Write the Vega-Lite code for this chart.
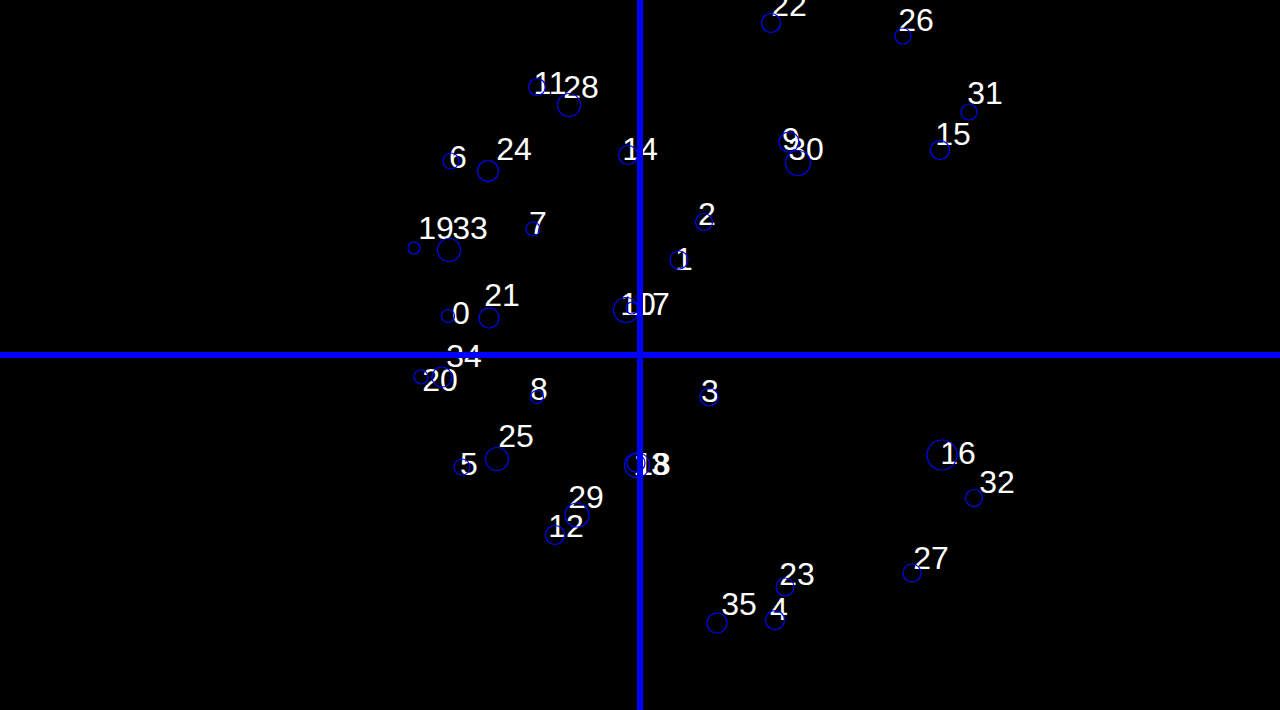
{
  "$schema": "https://vega.github.io/schema/vega-lite/v6.json",
  "width": 1280,
  "height": 710,
  "autosize": {"type": "none"},
  "padding": 0,
  "background": "#000000",
  "config": {"view": {"stroke": null}},
  "data": {"values": [
    {"id": "0", "x": -192, "y": 39, "lx": -179, "ly": 41, "d": 13},
    {"id": "1", "x": 39, "y": 95, "lx": 44, "ly": 95, "d": 18},
    {"id": "2", "x": 64, "y": 133, "lx": 67, "ly": 140, "d": 17},
    {"id": "3", "x": 69, "y": -42, "lx": 70, "ly": -37, "d": 18},
    {"id": "4", "x": 135, "y": -265, "lx": 139, "ly": -255, "d": 19},
    {"id": "5", "x": -178, "y": -112, "lx": -171, "ly": -110, "d": 16},
    {"id": "6", "x": -189, "y": 194, "lx": -182, "ly": 197, "d": 16},
    {"id": "7", "x": -107, "y": 126, "lx": -102, "ly": 131, "d": 14},
    {"id": "8", "x": -103, "y": -42, "lx": -101, "ly": -35, "d": 13},
    {"id": "9", "x": 149, "y": 213, "lx": 151, "ly": 215, "d": 20},
    {"id": "10", "x": -14, "y": 45, "lx": -2, "ly": 50, "d": 25},
    {"id": "11", "x": -103, "y": 268, "lx": -90, "ly": 271, "d": 17},
    {"id": "12", "x": -85, "y": -180, "lx": -74, "ly": -172, "d": 19},
    {"id": "13", "x": -3, "y": -110, "lx": 11, "ly": -110, "d": 25},
    {"id": "14", "x": -12, "y": 200, "lx": 0, "ly": 205, "d": 19},
    {"id": "15", "x": 300, "y": 205, "lx": 313, "ly": 220, "d": 19},
    {"id": "16", "x": 302, "y": -100, "lx": 318, "ly": -99, "d": 30},
    {"id": "17", "x": -8, "y": 47, "lx": 12, "ly": 50, "d": 12},
    {"id": "18", "x": -4, "y": -108, "lx": 13, "ly": -110, "d": 18},
    {"id": "19", "x": -226, "y": 107, "lx": -204, "ly": 126, "d": 12},
    {"id": "20", "x": -219, "y": -22, "lx": -200, "ly": -26, "d": 14},
    {"id": "21", "x": -151, "y": 37, "lx": -138, "ly": 59, "d": 20},
    {"id": "22", "x": 131, "y": 332, "lx": 149, "ly": 349, "d": 19},
    {"id": "23", "x": 145, "y": -232, "lx": 157, "ly": -220, "d": 18},
    {"id": "24", "x": -152, "y": 184, "lx": -126, "ly": 205, "d": 21},
    {"id": "25", "x": -143, "y": -104, "lx": -124, "ly": -82, "d": 23},
    {"id": "26", "x": 263, "y": 319, "lx": 276, "ly": 334, "d": 16},
    {"id": "27", "x": 272, "y": -218, "lx": 291, "ly": -204, "d": 18},
    {"id": "28", "x": -71, "y": 250, "lx": -59, "ly": 267, "d": 23},
    {"id": "29", "x": -63, "y": -160, "lx": -54, "ly": -143, "d": 24},
    {"id": "30", "x": 158, "y": 192, "lx": 166, "ly": 205, "d": 25},
    {"id": "31", "x": 329, "y": 243, "lx": 345, "ly": 261, "d": 16},
    {"id": "32", "x": 334, "y": -143, "lx": 357, "ly": -128, "d": 17},
    {"id": "33", "x": -191, "y": 105, "lx": -170, "ly": 126, "d": 23},
    {"id": "34", "x": -198, "y": -22, "lx": -176, "ly": -2, "d": 20},
    {"id": "35", "x": 77, "y": -268, "lx": 99, "ly": -250, "d": 20}
  ]},
  "layer": [
    {
      "mark": {"type": "text", "color": "#ffffff", "font": "Liberation Sans", "fontSize": 32, "align": "center", "baseline": "middle"},
      "encoding": {
        "x": {"field": "lx", "type": "quantitative", "scale": {"domain": [-640, 640], "nice": false, "zero": false}, "axis": null},
        "y": {"field": "ly", "type": "quantitative", "scale": {"domain": [-355, 355], "nice": false, "zero": false}, "axis": null},
        "text": {"field": "id", "type": "nominal"}
      }
    },
    {
      "mark": {"type": "point", "shape": "circle", "filled": false, "stroke": "#0000ff", "strokeWidth": 1.2, "opacity": 1},
      "encoding": {
        "x": {"field": "x", "type": "quantitative"},
        "y": {"field": "y", "type": "quantitative"},
        "size": {"field": "d", "type": "quantitative", "scale": {"type": "pow", "exponent": 2, "domain": [0, 40], "range": [0, 1600]}, "legend": null}
      }
    },
    {
      "mark": {"type": "rule", "color": "#0000ff", "strokeWidth": 6},
      "encoding": {"x": {"datum": 0, "type": "quantitative"}}
    },
    {
      "mark": {"type": "rule", "color": "#0000ff", "strokeWidth": 6},
      "encoding": {"y": {"datum": 0, "type": "quantitative"}}
    }
  ]
}
